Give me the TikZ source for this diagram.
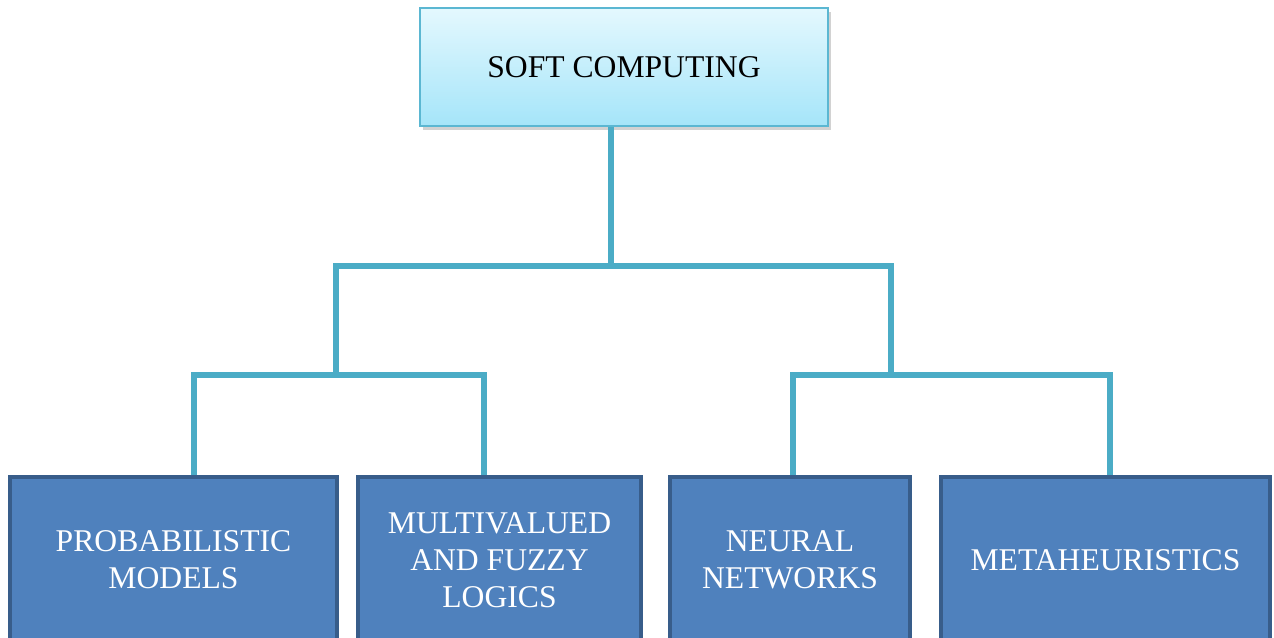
\documentclass[tikz,border=0pt]{standalone}
\usepackage{fontspec}
\setmainfont{Liberation Serif}
\usetikzlibrary{calc,shadows}
\definecolor{linkcol}{RGB}{75,172,198}
\definecolor{rootline}{RGB}{91,183,210}
\definecolor{roottop}{RGB}{228,248,254}
\definecolor{rootbot}{RGB}{165,229,249}
\definecolor{leaffill}{RGB}{79,129,189}
\definecolor{leafline}{RGB}{56,93,138}

\begin{document}
\begin{tikzpicture}[line width=0.5pt,font=\fontsize{18}{21}\selectfont,
  root/.style={draw=rootline,line width=1.2pt,top color=roottop,bottom color=rootbot,
    minimum width=8.16cm,minimum height=2.36cm,
    drop shadow={shadow xshift=0.06cm,shadow yshift=-0.08cm,opacity=0.35}},
  leaf/.style={draw=leafline,line width=1.8pt,fill=leaffill,text=white,align=center,
    minimum height=3.32cm,inner sep=2pt},
  link/.style={draw=linkcol,line width=3.2pt}]
  \clip (0,0) rectangle (25.48,12.76);
  \fill[white] (0,0) rectangle (25.48,12.76);
  % --- root ---
  \node[root] (soft) at (12.48,11.42) {SOFT COMPUTING};
  % --- leaves (cut by the lower edge) ---
  \node[leaf,minimum width=6.54cm] (prob)  at (3.47,1.56)  {PROBABILISTIC\\MODELS};
  \node[leaf,minimum width=5.66cm] (fuzzy) at (9.99,1.56)  {MULTIVALUED\\AND FUZZY\\LOGICS};
  \node[leaf,minimum width=4.80cm] (neur)  at (15.80,1.56) {NEURAL\\NETWORKS};
  \node[leaf,minimum width=6.58cm] (meta)  at (22.11,1.56) {METAHEURISTICS};
  % --- junctions of the tree ---
  \coordinate (top) at (12.22,7.44);
  \coordinate (jL)  at (6.72,5.26);
  \coordinate (jR)  at (17.82,5.26);
  % --- connectors ---
  \draw[link] (soft.south -| top) -- (top);
  \draw[link] (jL) |- (top) -| (jR);
  \draw[link] ([xshift=0.41cm]prob.north) |- (jL) -| ([xshift=-0.31cm]fuzzy.north);
  \draw[link] ([xshift=0.06cm]neur.north) |- (jR) -| ([xshift=0.09cm]meta.north);
\end{tikzpicture}
\end{document}
